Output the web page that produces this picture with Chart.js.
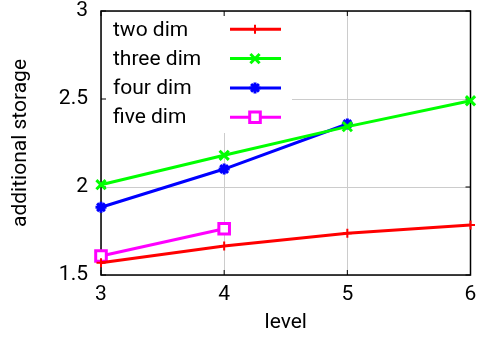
<!DOCTYPE html>
<html>
<head>
<meta charset="utf-8">
<script src="https://cdn.jsdelivr.net/npm/chart.js@4/dist/chart.umd.min.js"></script>
<style>
  body { margin: 0; background: #fff; }
</style>
</head>
<body>
<canvas id="myChart" width="481" height="340"></canvas>
<script>
// data
var levels = [3, 4, 5, 6];
var twoDim = [1.57, 1.665, 1.737, 1.784];
var threeDim = [2.013, 2.18, 2.343, 2.49];
var fourDim = [1.885, 2.102, 2.358];
var fiveDim = [1.608, 1.763];
var seriesNames = ['two dim', 'three dim', 'four dim', 'five dim'];
var xTicks = [3, 4, 5, 6];
var yTicks = [1.5, 2, 2.5, 3];

function toPoints(vals) {
  var pts = [];
  for (var i = 0; i < vals.length; i++) {
    pts.push({ x: levels[i], y: vals[i] });
  }
  return pts;
}

var FONT = { family: 'Roboto', size: 21 };

//===========================================
//  gnuplot style frame, inner ticks and key
//===========================================
var framePlugin = {
  id: 'frame',
  beforeDatasetsDraw: function (chart) {
    var c = chart.ctx, a = chart.chartArea;
    var xs = chart.scales.x, ys = chart.scales.y;
    c.save();
    // white key box hides the grid behind the legend
    c.fillStyle = '#fff';
    c.fillRect(a.left + 1, a.top + 1, 190, 121);
    // frame
    c.strokeStyle = '#000';
    c.lineWidth = 1.5;
    c.strokeRect(a.left, a.top, a.right - a.left, a.bottom - a.top);
    // inward tick marks on all sides
    c.lineWidth = 1;
    xTicks.forEach(function (v) {
      var px = xs.getPixelForValue(v);
      c.beginPath();
      c.moveTo(px, a.bottom); c.lineTo(px, a.bottom - 5);
      c.moveTo(px, a.top); c.lineTo(px, a.top + 5);
      c.stroke();
    });
    yTicks.forEach(function (v) {
      var py = ys.getPixelForValue(v);
      c.beginPath();
      c.moveTo(a.left, py); c.lineTo(a.left + 5, py);
      c.moveTo(a.right, py); c.lineTo(a.right - 5, py);
      c.stroke();
    });
    // key
    c.font = FONT.size + 'px ' + FONT.family;
    c.textBaseline = 'middle';
    c.textAlign = 'left';
    chart.data.datasets.forEach(function (ds, i) {
      var y = a.top + 18.3 + i * 29.3;
      c.fillStyle = '#000';
      c.fillText(ds.label, a.left + 12, y + 1);
      c.strokeStyle = ds.borderColor;
      c.lineWidth = ds.borderWidth;
      c.beginPath();
      c.moveTo(a.left + 129, y);
      c.lineTo(a.left + 180, y);
      c.stroke();
      c.lineWidth = ds.pointBorderWidth;
      c.fillStyle = ds.pointBackgroundColor;
      Chart.helpers.drawPoint(c, { pointStyle: ds.pointStyle, radius: ds.pointRadius, rotation: 0, borderWidth: ds.pointBorderWidth }, a.left + 154, y);
    });
    c.restore();
  }
};

var ctx = document.getElementById('myChart').getContext('2d');
var chart = new Chart(ctx, {
  type: 'line',
  data: {
    datasets: [{
      label: seriesNames[0],
      data: toPoints(twoDim),
      borderColor: '#ff0000',
      backgroundColor: '#ff0000',
      pointBackgroundColor: '#ff0000',
      borderWidth: 3,
      pointStyle: 'cross',
      pointRadius: 4.5,
      pointBorderWidth: 2
    }, {
      label: seriesNames[1],
      data: toPoints(threeDim),
      borderColor: '#00ff00',
      backgroundColor: '#00ff00',
      pointBackgroundColor: '#00ff00',
      borderWidth: 3,
      pointStyle: 'crossRot',
      pointRadius: 6.5,
      pointBorderWidth: 3
    }, {
      label: seriesNames[2],
      data: toPoints(fourDim),
      borderColor: '#0000ff',
      backgroundColor: '#0000ff',
      pointBackgroundColor: '#0000ff',
      borderWidth: 3,
      pointStyle: 'star',
      pointRadius: 5.5,
      pointBorderWidth: 3
    }, {
      label: seriesNames[3],
      data: toPoints(fiveDim),
      borderColor: '#ff00ff',
      backgroundColor: '#ff00ff',
      pointBackgroundColor: '#ffffff',
      borderWidth: 3,
      pointStyle: 'rect',
      pointRadius: 7.5,
      pointBorderWidth: 3
    }]
  },
  options: {
    responsive: false,
    animation: false,
    devicePixelRatio: 1,
    layout: { padding: { top: 11, right: 10, left: 0, bottom: 0 } },
    datasets: { line: { tension: 0, fill: false, clip: false } },
    plugins: { legend: { display: false }, tooltip: { enabled: false } },
    scales: {
      x: {
        type: 'linear',
        min: 3, max: 6,
        afterFit: function (s) { s.height = 65; s.paddingLeft = 0; s.paddingRight = 0; },
        afterBuildTicks: function (s) { s.ticks = xTicks.map(function (v) { return { value: v }; }); },
        grid: { color: '#cccccc', lineWidth: 1, drawTicks: false },
        border: { display: false },
        ticks: { color: '#000', font: FONT, padding: 7, callback: function (v) { return String(v); } },
        title: { display: true, text: 'level', color: '#000', font: FONT, padding: { top: 0, bottom: 5 } }
      },
      y: {
        min: 1.5, max: 3,
        afterFit: function (s) { s.width = 101; s.paddingTop = 0; s.paddingBottom = 0; },
        afterBuildTicks: function (s) { s.ticks = yTicks.map(function (v) { return { value: v }; }); },
        grid: { color: '#cccccc', lineWidth: 1, drawTicks: false },
        border: { display: false },
        ticks: { color: '#000', font: FONT, padding: 13, callback: function (v) { return String(v); } },
        title: { display: true, text: 'additional storage', color: '#000', font: FONT, padding: { top: 8, bottom: 0 } }
      }
    }
  },
  plugins: [framePlugin]
});
</script>
</body>
</html>
